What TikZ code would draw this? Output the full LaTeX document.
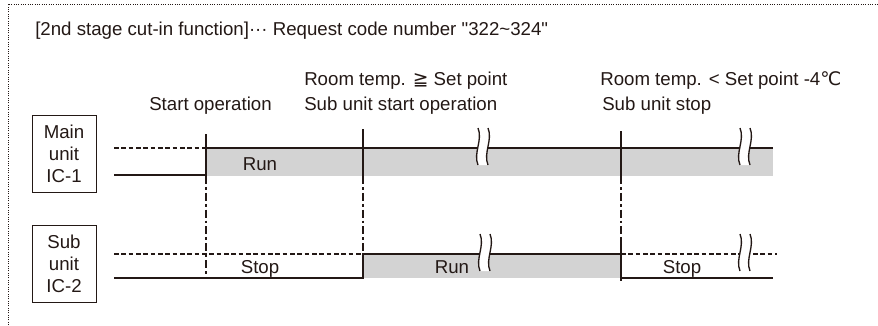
\documentclass[tikz,border=0pt]{standalone}
\usepackage{fontspec}
\setmainfont{Liberation Sans}[Ligatures=TeXOff]
\newfontfamily\symfont{DejaVu Sans}
\definecolor{ink}{HTML}{231815}
\definecolor{runfill}{HTML}{D3D3D3}
\tikzset{
  sig/.style={draw=ink, line width=1.6pt},
  sigoff/.style={draw=ink, line width=1.5pt, dash pattern=on 3.5pt off 2pt},
  cue/.style={draw=ink, line width=1.5pt, dash pattern=on 6pt off 2.3pt on 2pt off 2.3pt},
  lbl/.style={anchor=base west, inner sep=0pt, text=ink},
  unitbox/.style={draw=ink, line width=0.75pt, minimum width=48pt, minimum height=57.75pt, align=center, inner sep=0pt, text=ink},
}
\begin{document}
\begin{tikzpicture}[x=0.75pt,y=-0.75pt,font=\fontsize{14}{16.5}\selectfont]
\useasboundingbox (0,0) rectangle (878,325);
\draw[ink, line width=0.75pt, dash pattern=on 0.75pt off 1pt] (8,325) -- (8,4) -- (878,4);
\node[lbl] (title) at (35,35) {[2nd stage cut-in function]··· Request code number "322\textasciitilde324"};

\node[lbl] (startop) at (149,110) {Start operation};
\node[lbl] (subonA) at (304,85) {Room temp. {\symfont ≧} Set point};
\node[lbl] (subonB) at (304,110) {Sub unit start operation};
\node[lbl] (suboffA) at (600,85) {Room temp. < Set point -4{\symfont ℃}};
\node[lbl] (suboffB) at (602,110) {Sub unit stop};

\node[unitbox] (mainunit) at (64,153.5) {Main\\unit\\IC-1};
\node[unitbox] (subunit) at (64,263.5) {Sub\\unit\\IC-2};

\fill[runfill] (206,148) rectangle (773,176);
\fill[runfill] (363,254) rectangle (621,278);

\draw[sigoff] (114,148) -- (206,148);
\draw[sig] (114,175) -- (206,175);
\draw[sig] (206,148) -- (773,148);
\draw[sig] (206,134) -- (206,176);
\draw[sig] (363,129) -- (363,176);
\draw[sig] (621,131) -- (621,176);

\draw[cue] (206,176) -- (206,278);
\draw[cue] (363,176) -- (363,254);
\draw[cue] (621,176) -- (621,240);

\draw[sigoff] (114,254) -- (363,254);
\draw[sig] (114,278) -- (363,278) -- (363,254) -- (621,254);
\draw[sig] (621,240) -- (621,281);
\draw[sigoff] (621,254) -- (777,254);
\draw[sig] (621,278) -- (773,278);

\foreach \bx/\by in {483/148, 745/148, 485/254, 745/254}{
  \fill[white] ({\bx-5},{\by-20}) .. controls ({\bx},{\by-8}) and ({\bx-10},{\by+5}) .. ({\bx-5},{\by+17})
    -- ({\bx+5},{\by+17}) .. controls ({\bx},{\by+5}) and ({\bx+10},{\by-8}) .. ({\bx+5},{\by-20}) -- cycle;
  \draw[ink, line width=1pt] ({\bx-5},{\by-20}) .. controls ({\bx},{\by-8}) and ({\bx-10},{\by+5}) .. ({\bx-5},{\by+17});
  \draw[ink, line width=1pt] ({\bx+5},{\by-20}) .. controls ({\bx+10},{\by-8}) and ({\bx},{\by+5}) .. ({\bx+5},{\by+17});
}

\node[lbl, anchor=base] (runmain) at (260,170) {Run};
\node[lbl, anchor=base] (stopsubA) at (260,273) {Stop};
\node[lbl, anchor=base] (runsub) at (452,273) {Run};
\node[lbl, anchor=base] (stopsubB) at (682,273) {Stop};

\end{tikzpicture}
\end{document}
